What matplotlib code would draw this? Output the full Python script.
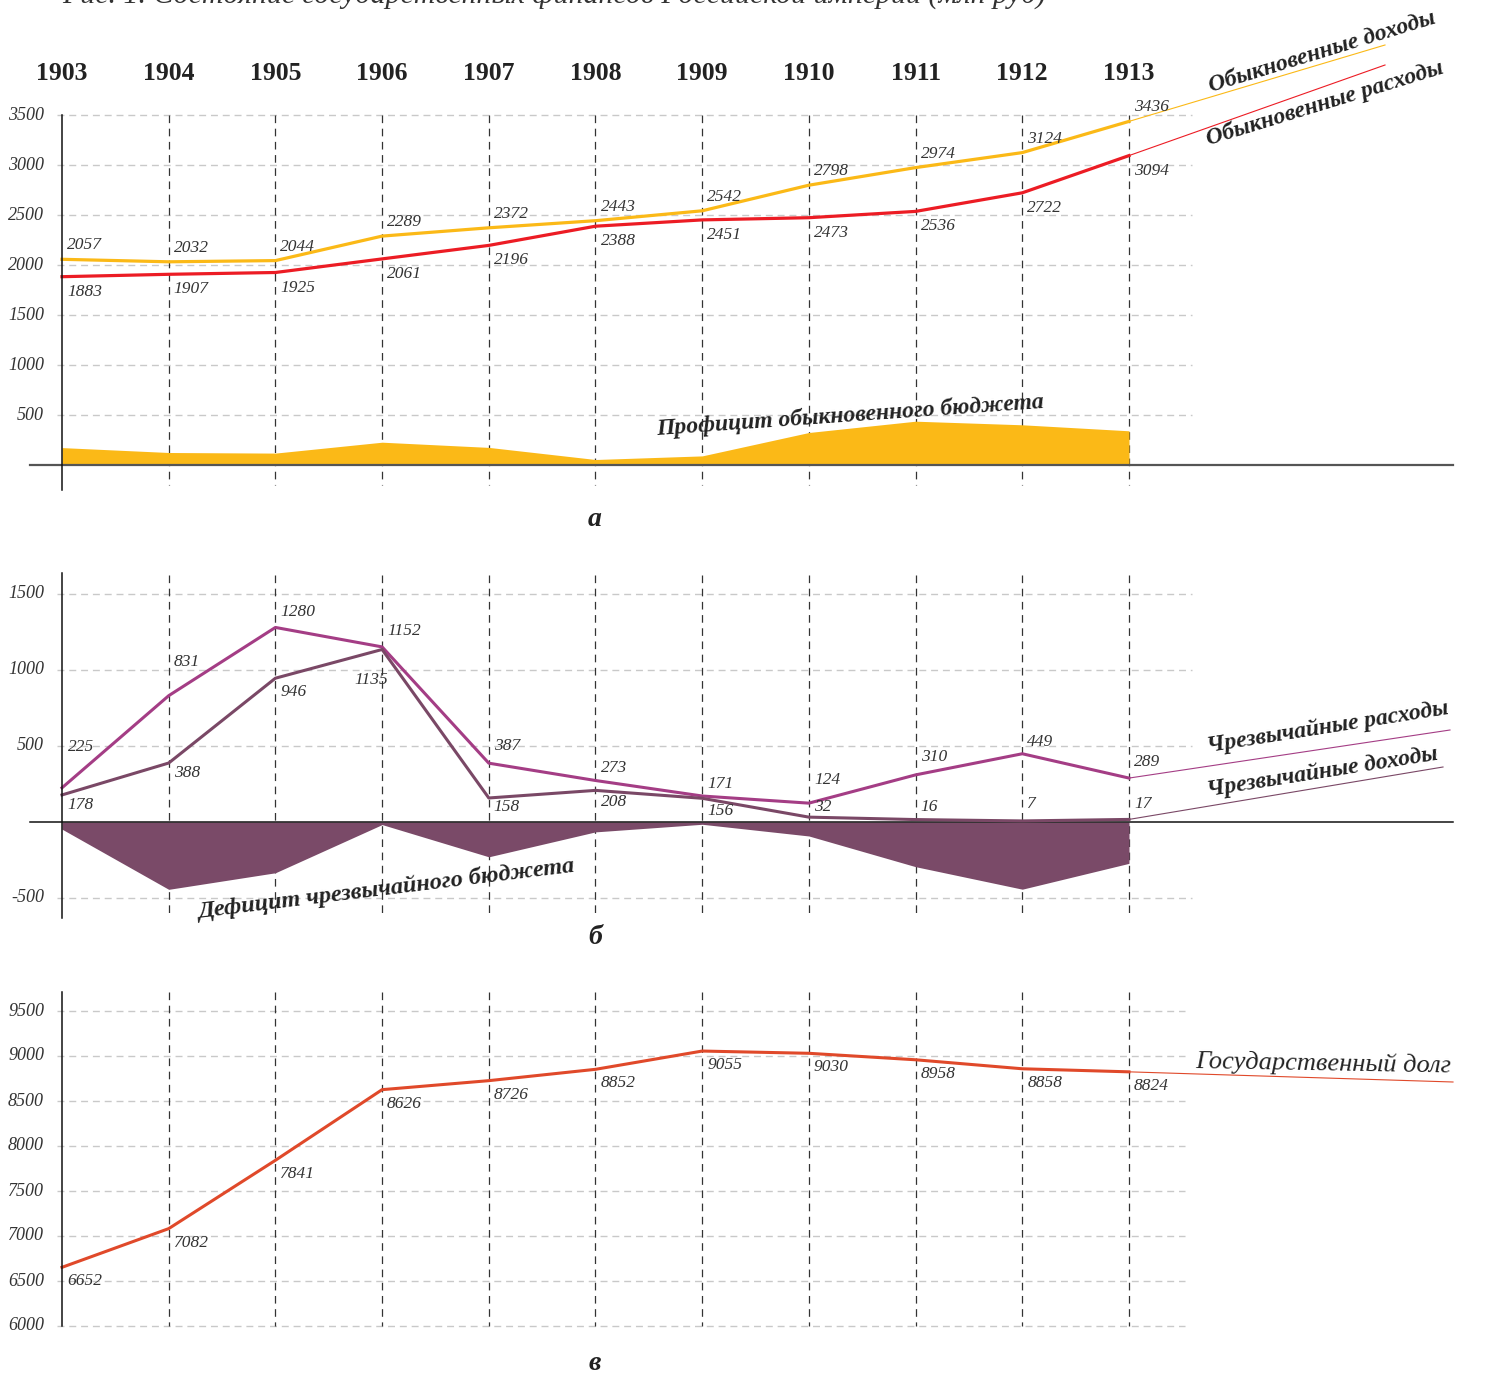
import matplotlib
matplotlib.use("Agg")
import matplotlib.pyplot as plt
import numpy as np

plt.rcParams['lines.scale_dashes'] = False
SERIF = 'Liberation Serif'

# data (млн руб)
years = [1903, 1904, 1905, 1906, 1907, 1908, 1909, 1910, 1911, 1912, 1913]
ord_income = [2057, 2032, 2044, 2289, 2372, 2443, 2542, 2798, 2974, 3124, 3436]
ord_expense = [1883, 1907, 1925, 2061, 2196, 2388, 2451, 2473, 2536, 2722, 3094]
ext_expense = [225, 831, 1280, 1152, 387, 273, 171, 124, 310, 449, 289]
ext_income = [178, 388, 946, 1135, 158, 208, 156, 32, 16, 7, 17]
debt = [6652, 7082, 7841, 8626, 8726, 8852, 9055, 9030, 8958, 8858, 8824]

ticks_a = [500, 1000, 1500, 2000, 2500, 3000, 3500]
ticks_b = [-500, 500, 1000, 1500]
ticks_c = [6000, 6500, 7000, 7500, 8000, 8500, 9000, 9500]

title = "Рис. 1. Состояние государственных финансов Российской империи (млн руб)"

W, H, DPI = 1508, 1376, 100
PPY = 106.7  # pixels per year


def px2x(p):
    return years[0] + (p - 62) / PPY


fig = plt.figure(figsize=(W / DPI, H / DPI), dpi=DPI)
# the title sits mostly above the top edge, as in the source scan
fig.text(62 / W, 1 - 3 / H, title, ha='left', va='baseline', fontsize=21.5,
         style='italic', family=SERIF, color='#333')


def panel(top, bot, ref_px, ref_val, ppu):
    ax = fig.add_axes([0, 1 - bot / H, 1, (bot - top) / H])
    ax.set_xlim(px2x(0), px2x(W))
    ax.set_ylim(ref_val - (bot - ref_px) / ppu, ref_val + (ref_px - top) / ppu)
    ax.axis('off')

    def yv(p):
        return ref_val + (ref_px - p) / ppu
    return ax, yv


def frame(ax, yv, ticks, grid_end, vtop, vbot, axtop, axbot):
    for v in ticks:
        ax.plot([px2x(57), px2x(grid_end)], [v, v], color='#c9c9c9', lw=1,
                dashes=(5, 3.5), zorder=1)
        ax.text(px2x(44), v, str(v), ha='right', va='center', fontsize=13,
                style='italic', family=SERIF, color='#333')
    for yr in years[1:]:
        ax.plot([yr, yr], [yv(vtop), yv(vbot)], color='#333', lw=0.9,
                dashes=(5.5, 4), zorder=1)
    ax.plot([years[0]] * 2, [yv(axtop), yv(axbot)], color='#111', lw=1.1, zorder=5)


def labels(ax, vals, offs, dx=5):
    for yr, v, off in zip(years, vals, offs):
        if isinstance(off, tuple):
            ddx, ddy = off
        else:
            ddx, ddy = dx, off
        ax.annotate(str(v), (yr, v), xytext=(ddx, ddy), textcoords='offset pixels',
                    ha='left', va='center', fontsize=12.5, style='italic',
                    family=SERIF, color='#333', zorder=6)


def side_label(ax, xp, y, text, rot, size=17, weight='bold'):
    ax.text(px2x(xp), y, text, ha='center', va='center', rotation=rot,
            fontsize=size, style='italic', fontweight=weight, family=SERIF,
            color='#222', rotation_mode='anchor')


# ---- а: обыкновенный бюджет
YEL, RED = '#FBB917', '#EC1C24'
ax, yv = panel(20, 545, 465, 0, 0.1)
frame(ax, yv, ticks_a, 1192, 115, 485, 115, 490)
for yr in years:
    ax.text(yr, yv(73), str(yr), ha='center', va='center', fontsize=18.5,
            fontweight='bold', family=SERIF, color='#222')
inc = np.array(ord_income)
exp = np.array(ord_expense)
ax.fill_between(years, 0, inc - exp, color=YEL, lw=0, zorder=2)
ax.plot([px2x(30), px2x(1453)], [0, 0], color='#555', lw=1.6, zorder=4)
ax.plot(years, inc, color=YEL, lw=2.3, zorder=4)
ax.plot(years, exp, color=RED, lw=2.3, zorder=4)
ax.plot([years[-1], px2x(1385)], [inc[-1], yv(45)], color=YEL, lw=0.8)
ax.plot([years[-1], px2x(1385)], [exp[-1], yv(65)], color=RED, lw=0.8)
labels(ax, ord_income, [14] * 11)
labels(ax, ord_expense, [-15] * 11)
side_label(ax, 1322, yv(52), "Обыкновенные доходы", 17)
side_label(ax, 1325, yv(103), "Обыкновенные расходы", 17)
side_label(ax, 850, yv(415), "Профицит обыкновенного бюджета", 4, 17)
ax.text(px2x(595), yv(520), "а", ha='center', va='center', fontsize=20,
        style='italic', fontweight='bold', family=SERIF, color='#222')

# ---- б: чрезвычайный бюджет
MAG, MAUVE = '#A43D85', '#7A4866'
ax, yv = panel(555, 960, 822, 0, 0.152)
frame(ax, yv, ticks_b, 1192, 575, 915, 573, 918)
ee = np.array(ext_expense)
ei = np.array(ext_income)
ax.fill_between(years, 0, ei - ee, color='#7A4A68', lw=0, zorder=2)
ax.plot([px2x(30), px2x(1453)], [0, 0], color='#111', lw=1.1, zorder=4)
ax.plot(years, ee, color=MAG, lw=2.2, zorder=4)
ax.plot(years, ei, color=MAUVE, lw=2.2, zorder=4)
ax.plot([years[-1], px2x(1450)], [ee[-1], yv(730)], color=MAG, lw=0.8)
ax.plot([years[-1], px2x(1443)], [ei[-1], yv(767)], color=MAUVE, lw=0.8)
labels(ax, ext_expense, [(6, 41), 34, 15, 16, 17, 13, 12, 23, 18, 12, 16])
labels(ax, ext_income, [-10, -10, -14, (-28, -31), -9, -12, -13, 10, 13, 17, 15])
side_label(ax, 1328, yv(727), "Чрезвычайные расходы", 9)
side_label(ax, 1323, yv(772), "Чрезвычайные доходы", 9)
side_label(ax, 387, yv(889), "Дефицит чрезвычайного бюджета", 7, 17.5)
ax.text(px2x(595), yv(938), "б", ha='center', va='center', fontsize=20,
        style='italic', fontweight='bold', family=SERIF, color='#222')

# ---- в: государственный долг
DEBT = '#E0492A'
ax, yv = panel(975, 1376, 1326, 6000, 0.09)
frame(ax, yv, ticks_c, 1185, 992, 1326, 992, 1326)
ax.plot(years, debt, color=DEBT, lw=2.2, zorder=4)
ax.plot([years[-1], px2x(1453)], [debt[-1], yv(1082)], color=DEBT, lw=0.8)
labels(ax, debt, [-14] * 11)
side_label(ax, 1323, yv(1064), "Государственный долг", -1, 19, 'normal')
ax.text(px2x(595), yv(1364), "в", ha='center', va='center', fontsize=20,
        style='italic', fontweight='bold', family=SERIF, color='#222')

fig.savefig("out.png", dpi=DPI)
